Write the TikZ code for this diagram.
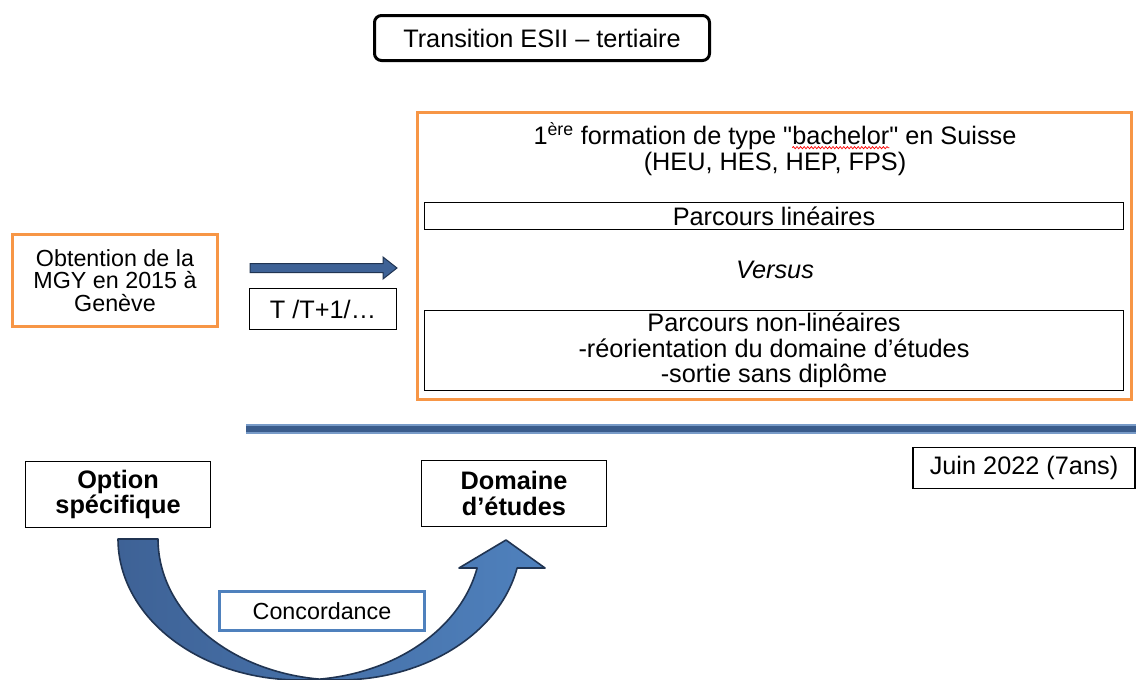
\documentclass[tikz,border=0pt]{standalone}
\usepackage{fontspec}
\setmainfont{Liberation Sans}[Ligatures=TeXOff]
\usetikzlibrary{calc,decorations.pathmorphing}
\definecolor{orangeb}{RGB}{247,150,70}
\definecolor{bluelight}{RGB}{79,129,189}
\definecolor{bluemid}{RGB}{62,98,150}
\definecolor{bardark}{RGB}{58,92,140}
\definecolor{baredge}{RGB}{120,155,200}
\definecolor{navy}{RGB}{32,52,82}
\newcommand\fA{\fontsize{25.3}{25.5}\selectfont}
\newcommand\fB{\fontsize{23.3}{22.5}\selectfont}
\newcommand\redwave[1]{\tikz[baseline=(wv.base)]{\node[inner sep=0pt, outer sep=0pt] (wv) {#1};
  \draw[overlay, red, line width=0.7pt, decorate, decoration={snake, amplitude=1.1pt, segment length=3.6pt}] ($(wv.base west)+(0,3)$) -- ($(wv.base east)+(0,3)$);}}
\tikzset{
  lbox/.style={draw=black, line width=1.2pt, inner sep=0pt, align=center, font=\fA, fill=white},
  obox/.style={draw=orangeb, line width=3.5pt, inner sep=0pt, align=center},
  tbox/.style={draw=black, line width=3pt, rounded corners=7pt, inner sep=0pt, font=\fA},
  cbox/.style={draw=bluelight, line width=3pt, fill=white, inner sep=0pt, font=\fB},
  txt/.style={inner sep=0pt, align=center, font=\fA},
  curvarrow/.style={draw=navy, line width=1.6pt, left color=bluemid, right color=bluelight, line join=round},
}
\begin{document}
\begin{tikzpicture}[x=1pt, y=-1pt]
\useasboundingbox (0,0) rectangle (1136,680);
\fill[white] (0,0) rectangle (1136,680);

% title
\node[tbox, minimum width=335pt, minimum height=45pt] (title) at (542,38) {Transition ESII – tertiaire};

% main orange box
\node[obox, minimum width=714pt, minimum height=287pt] (main) at (774.5,256) {};
\node[txt] (bach) at (775,149) {1\textsuperscript{ère} formation de type "\redwave{bachelor}" en Suisse\\(HEU, HES, HEP, FPS)};
\node[lbox, minimum width=699pt, minimum height=27pt] (lin) at (774,216) {Parcours linéaires};
\node[txt, font=\fA\itshape] (vs) at (775,270) {Versus};
\node[lbox, minimum width=699pt, minimum height=80pt] (nonlin) at (774,350.5) {Parcours non-linéaires\\-réorientation du domaine d’études\\-sortie sans diplôme};

% left box
\node[obox, font=\fB, minimum width=205pt, minimum height=92pt] (mgy) at (115,280.5) {Obtention de la\\MGY en 2015 à\\Genève};

% horizontal arrow
\coordinate (arrS) at (250,268);
\coordinate (arrE) at (397,268);
\filldraw[fill=bluemid, draw=navy, line width=1pt, line join=miter]
  ($(arrS)+(0,-4.5)$) -- ($(arrE)+(-14,-4.5)$) -- ($(arrE)+(-14,-11)$) -- (arrE)
  -- ($(arrE)+(-14,11)$) -- ($(arrE)+(-14,4.5)$) -- ($(arrS)+(0,4.5)$) -- cycle;

\node[lbox, minimum width=147pt, minimum height=41pt] (t) at (323,309) {T /T+1/…};

% thick bar
\coordinate (barS) at (246,429);
\coordinate (barE) at (1136,429);
\draw[line width=10pt, baredge] (barS) -- (barE);
\draw[line width=6.5pt, bardark] (barS) -- (barE);

\node[lbox, minimum width=222pt, minimum height=41pt] (juin) at (1024,468) {Juin 2022 (7ans)};

% bottom boxes
\node[lbox, font=\fA\bfseries, minimum width=185pt, minimum height=66pt] (opt) at (118,494.5) {Option\\spécifique};
\node[lbox, font=\fA\bfseries, minimum width=185pt, minimum height=66pt] (dom) at (514,493.5) {Domaine\\d’études};

% curved arrow
\begin{scope}
\clip (0,0) rectangle (1136,680);
\path[curvarrow] (118,539) -- (157,539)
  -- plot[domain=180:96.5, samples=50, variable=\t] ({339.5+181.5*cos(\t)},{539+141*sin(\t)})
  -- plot[domain=83.5:11.87, samples=50, variable=\t] ({299.5+181.5*cos(\t)},{539+141*sin(\t)})
  -- (459,568) -- (506,540) -- (545,568)
  -- plot[domain=11.87:96.5, samples=50, variable=\t] ({339.5+181.5*cos(\t)},{539+141*sin(\t)})
  -- plot[domain=83.5:180, samples=50, variable=\t] ({299.5+181.5*cos(\t)},{539+141*sin(\t)})
  -- cycle;
\end{scope}

\node[cbox, minimum width=205pt, minimum height=39pt] (conc) at (322,611) {Concordance};
\end{tikzpicture}
\end{document}
